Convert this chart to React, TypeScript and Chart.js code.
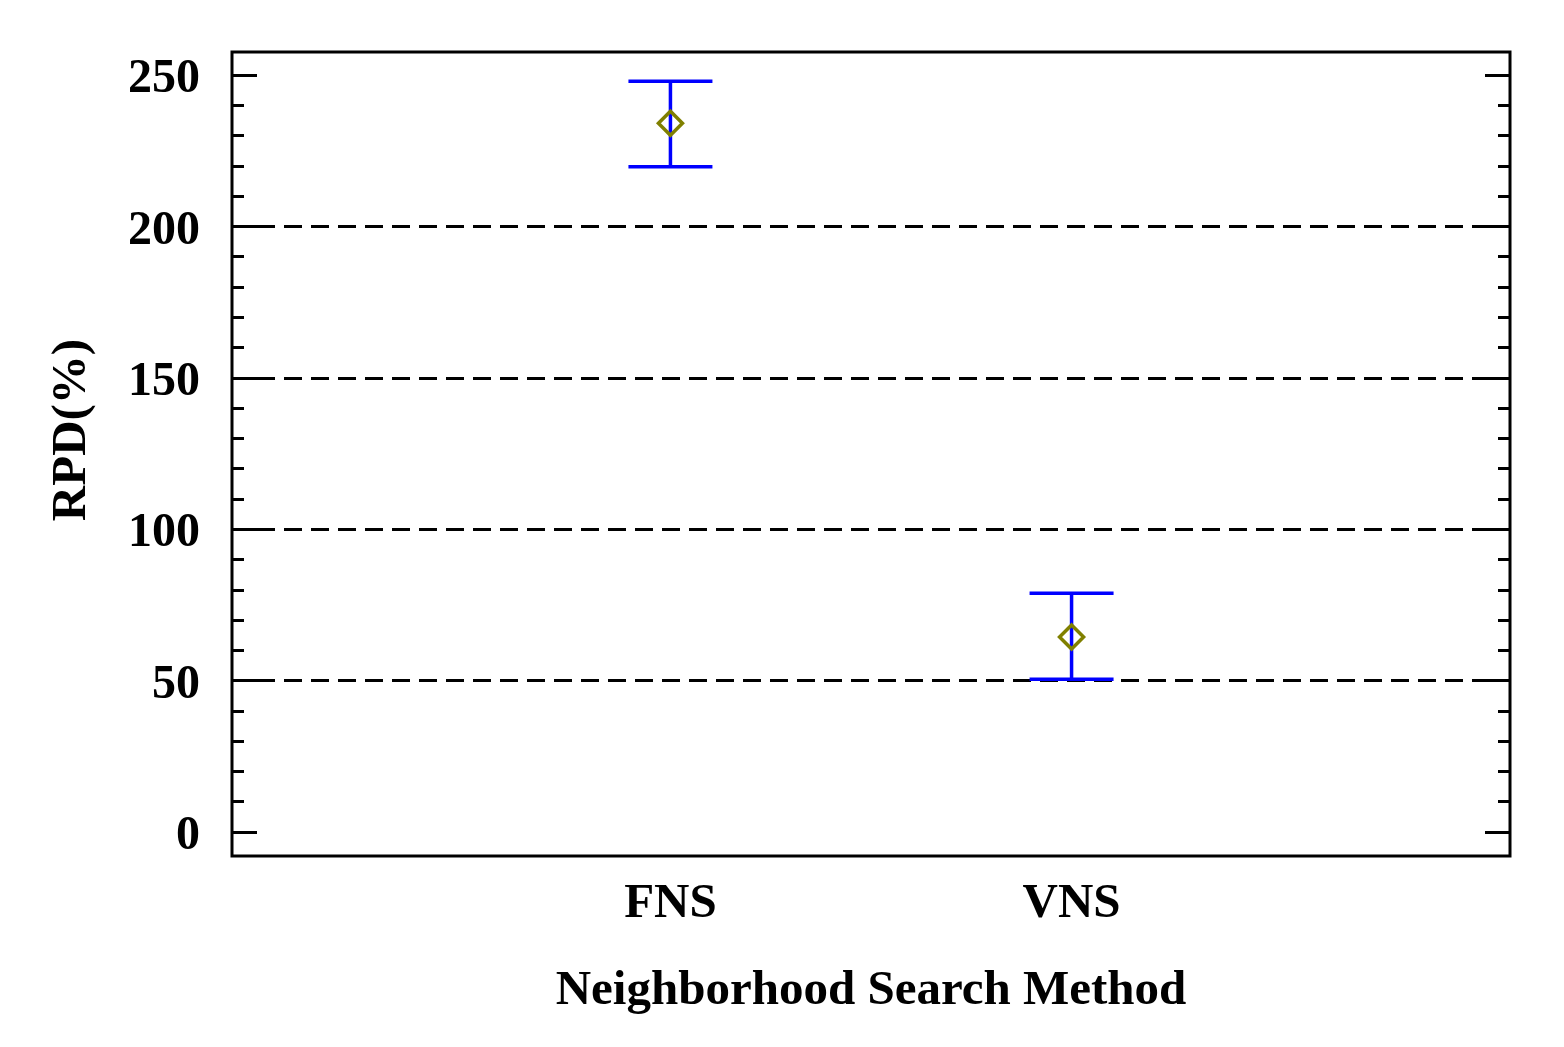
import React, { useEffect, useRef } from "react";
import { Chart, registerables } from "chart.js";

Chart.register(...registerables);

const categories = ["FNS", "VNS"];
const means = [234, 64.3];
const upperBounds = [247.8, 78.8];
const lowerBounds = [219.6, 50.4];
const yTickValues = [0, 50, 100, 150, 200, 250];
const gridValues = [50, 100, 150, 200];
const minorStep = 10;
const yTitle = "RPD(%)";

const FONT = "'Liberation Serif', 'Times New Roman', serif";

const framePlugin = {
  id: "framePlugin",
  beforeDatasetsDraw(chart: any) {
    const { ctx, chartArea, scales } = chart;
    const { left, right, top, bottom } = chartArea;
    const y = scales.y;
    const x = scales.x;
    ctx.save();
    // dashed grid
    ctx.strokeStyle = "#000";
    ctx.lineWidth = 3;
    ctx.setLineDash([18, 9]);
    gridValues.forEach((v) => {
      const py = Math.round(y.getPixelForValue(v)) + 0.5;
      ctx.beginPath();
      ctx.moveTo(left + 25, py);
      ctx.lineTo(right - 25, py);
      ctx.stroke();
    });
    ctx.setLineDash([]);
    // ticks
    ctx.lineWidth = 3;
    for (let v = 0; v <= 250; v += minorStep) {
      const py = Math.round(y.getPixelForValue(v)) + 0.5;
      const major = v % 50 === 0;
      const len = major ? 25 : 12;
      ctx.beginPath();
      ctx.moveTo(left, py);
      ctx.lineTo(left + len, py);
      ctx.moveTo(right, py);
      ctx.lineTo(right - len, py);
      ctx.stroke();
    }
    // frame
    ctx.lineWidth = 3;
    ctx.strokeRect(left, top, right - left, bottom - top);
    // error bars
    ctx.strokeStyle = "#0000FF";
    ctx.lineWidth = 3.5;
    categories.forEach((_, i) => {
      const px = x.getPixelForValue(i + 1);
      const yu = y.getPixelForValue(upperBounds[i]);
      const yl = y.getPixelForValue(lowerBounds[i]);
      ctx.beginPath();
      ctx.moveTo(px, yu);
      ctx.lineTo(px, yl);
      ctx.moveTo(px - 42, yu);
      ctx.lineTo(px + 42, yu);
      ctx.moveTo(px - 42, yl);
      ctx.lineTo(px + 42, yl);
      ctx.stroke();
    });
    // y title
    ctx.fillStyle = "#000";
    ctx.font = `bold 49px ${FONT}`;
    ctx.textAlign = "center";
    ctx.textBaseline = "middle";
    ctx.translate(72, 430);
    ctx.rotate(-Math.PI / 2);
    ctx.fillText(yTitle, 0, 0);
    ctx.restore();
  },
};

export default function App() {
  const ref = useRef<HTMLCanvasElement>(null);
  useEffect(() => {
    if (!ref.current) return;
    const chart = new Chart(ref.current, {
      type: "scatter",
      data: {
        datasets: [
          {
            data: means.map((m, i) => ({ x: i + 1, y: m })),
            pointStyle: "rectRot",
            pointRadius: 12,
            pointBorderWidth: 3.5,
            pointBorderColor: "#808000",
            pointBackgroundColor: "rgba(0,0,0,0)",
            showLine: false,
          },
        ],
      },
      options: {
        responsive: false,
        animation: false,
        events: [],
        layout: { padding: { left: 0, top: 52, right: 54, bottom: 0 } },
        plugins: { legend: { display: false }, tooltip: { enabled: false } },
        scales: {
          x: {
            type: "linear",
            min: -0.093,
            max: 3.093,
            afterBuildTicks: (s: any) => {
              s.ticks = categories.map((_, i) => ({ value: i + 1 }));
            },
            afterFit: (s: any) => {
              s.height = 191;
              s.paddingLeft = 0;
              s.paddingRight = 0;
            },
            ticks: {
              callback: (v: any) => categories[Number(v) - 1] ?? "",
              color: "#000",
              font: { family: FONT, weight: "bold", size: 49 },
              padding: 19,
              maxRotation: 0,
              autoSkip: false,
            },
            grid: { display: false, drawTicks: false },
            border: { display: false },
            title: {
              display: true,
              text: "Neighborhood Search Method",
              color: "#000",
              font: { family: FONT, weight: "bold", size: 49 },
              padding: { top: 0, bottom: 26 },
            },
          },
          y: {
            type: "linear",
            min: -8,
            max: 257.5,
            afterBuildTicks: (s: any) => {
              s.ticks = yTickValues.map((v) => ({ value: v }));
            },
            afterFit: (s: any) => {
              s.width = 232;
              s.paddingTop = 0;
              s.paddingBottom = 0;
            },
            ticks: {
              color: "#000",
              font: { family: FONT, weight: "bold", size: 48 },
              padding: 32,
              labelOffset: 5,
              autoSkip: false,
            },
            grid: { display: false, drawTicks: false },
            border: { display: false },
          },
        },
      },
      plugins: [framePlugin],
    });
    return () => chart.destroy();
  }, []);
  return (
    <div style={{ position: "absolute", left: 0, top: 0, width: 1564, height: 1047, background: "#fff" }}>
      <canvas ref={ref} width={1564} height={1047} />
    </div>
  );
}
